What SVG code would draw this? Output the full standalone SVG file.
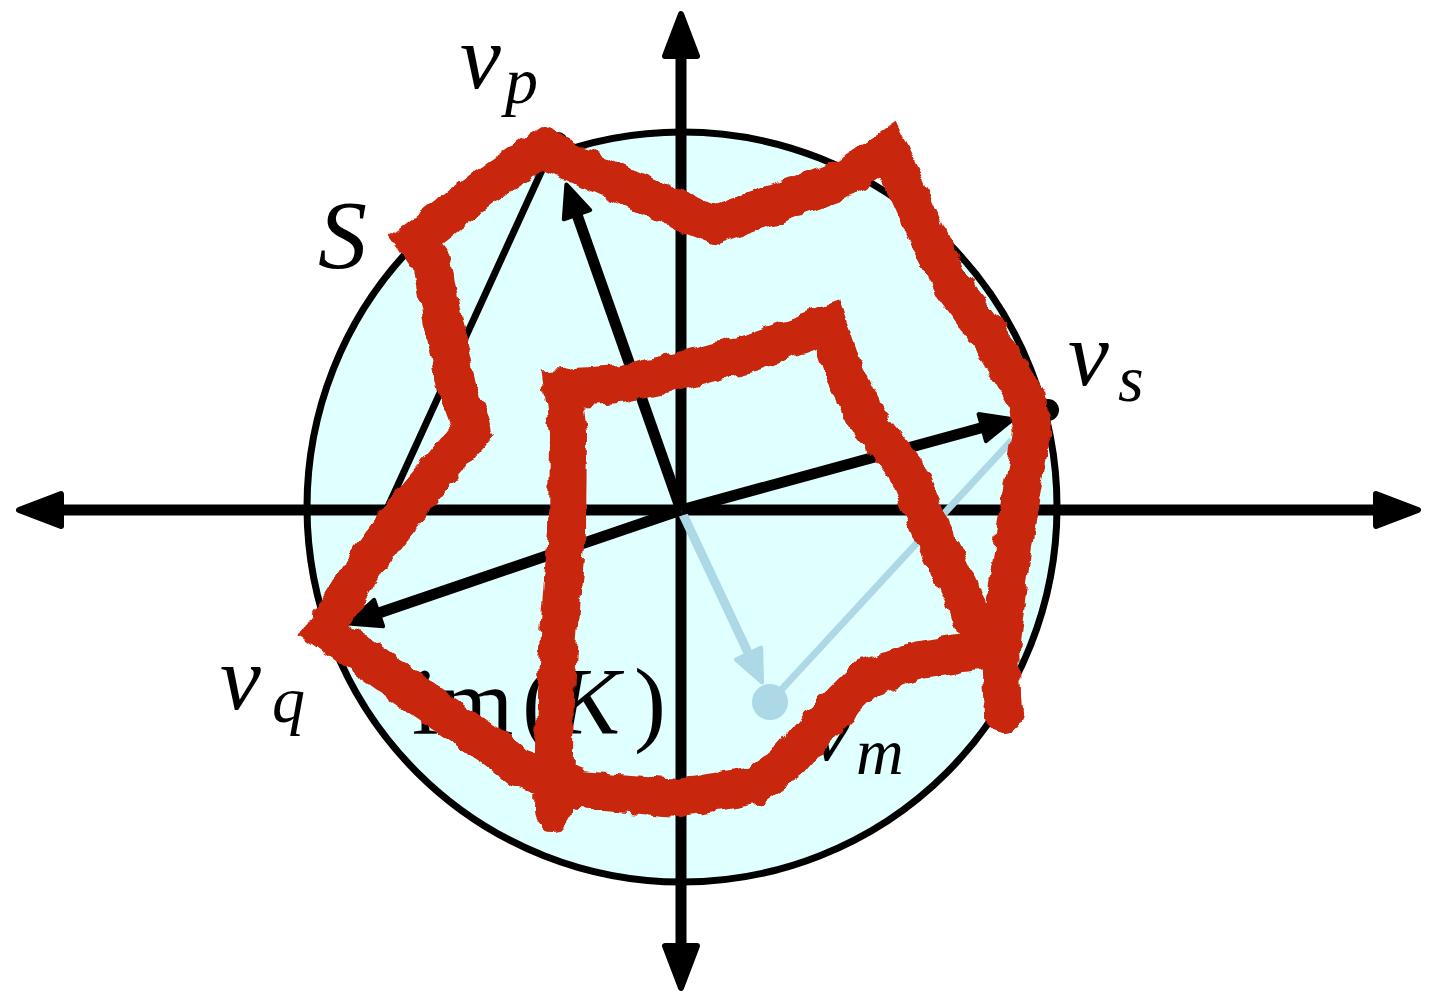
<svg xmlns="http://www.w3.org/2000/svg" width="1441" height="998" viewBox="0 0 1441 998">
<style>
.ax{stroke:#000;stroke-width:11;fill:none}
.vec{stroke:#000;stroke-width:11;fill:none}
.lb{stroke:#add8e6;fill:none}
.math{font-family:"Liberation Serif","Times New Roman",serif;font-style:italic;fill:#000}
.rm{font-family:"Liberation Serif","Times New Roman",serif;font-style:normal;fill:#000}
.red{stroke:#c8260a;stroke-width:38;fill:none;stroke-linejoin:miter;stroke-miterlimit:3;stroke-linecap:round}
</style>
<defs>
<marker id="axh" markerUnits="userSpaceOnUse" orient="auto" refX="0" refY="0" markerWidth="80" markerHeight="80" viewBox="-20 -40 80 80" overflow="visible">
<path d="M-8,-16 L34,0 L-8,16 Z" fill="#000" stroke="#000" stroke-width="6" stroke-linejoin="round"/>
</marker>
<marker id="vh" markerUnits="userSpaceOnUse" orient="auto" refX="0" refY="0" markerWidth="60" markerHeight="60" viewBox="-20 -30 60 60" overflow="visible">
<path d="M-6,-14 L26,0 L-6,14 Z" fill="#000" stroke="#000" stroke-width="4" stroke-linejoin="round"/>
</marker>
<marker id="vhb" markerUnits="userSpaceOnUse" orient="auto" refX="0" refY="0" markerWidth="60" markerHeight="60" viewBox="-20 -30 60 60" overflow="visible">
<path d="M-6,-14 L26,0 L-6,14 Z" fill="#add8e6" stroke="#add8e6" stroke-width="4" stroke-linejoin="round"/>
</marker>
<filter id="rough" x="-10%" y="-10%" width="120%" height="120%">
<feTurbulence type="fractalNoise" baseFrequency="0.07" numOctaves="2" seed="4" result="n"/>
<feDisplacementMap in="SourceGraphic" in2="n" scale="10" xChannelSelector="R" yChannelSelector="G"/>
</filter>
</defs>
<rect width="1441" height="998" fill="#fff"/>
<g id="set-S">
<circle cx="682" cy="507" r="375" fill="#e0ffff" stroke="#000" stroke-width="7"/>
</g>
<g id="axes">
<line class="ax" x1="681" y1="510" x2="53" y2="510" marker-end="url(#axh)"/>
<line class="ax" x1="681" y1="510" x2="1384" y2="510" marker-end="url(#axh)"/>
<line class="ax" x1="681" y1="510" x2="681" y2="48" marker-end="url(#axh)"/>
<line class="ax" x1="681" y1="510" x2="681" y2="954" marker-end="url(#axh)"/>
</g>
<g id="connectors">
<line class="lb" stroke-width="7" x1="770" y1="702" x2="1012" y2="440"/>
<line class="lb" stroke-width="9" x1="681" y1="510" x2="751" y2="659" marker-end="url(#vhb)"/>
<line stroke="#000" stroke-width="7" x1="332" y1="629" x2="553" y2="146"/>
<line class="vec" x1="681" y1="510" x2="575" y2="209" marker-end="url(#vh)"/>
<line class="vec" x1="681" y1="510" x2="988" y2="426" marker-end="url(#vh)"/>
<line class="vec" x1="681" y1="510" x2="373" y2="615" marker-end="url(#vh)"/>
</g>
<g id="node-vp"><circle cx="558" cy="142" r="10" fill="#000"/><text class="math" x="460" y="88" font-size="92">v<tspan font-size="66" x="505" y="103">p</tspan></text></g>
<g id="node-vs"><circle cx="1048" cy="410" r="11" fill="#000"/><text class="math" x="1068" y="385" font-size="92">v<tspan font-size="66" x="1118" y="401">s</tspan></text></g>
<g id="node-vq"><circle cx="330" cy="630" r="10" fill="#000"/><text class="math" x="220" y="709" font-size="92">v<tspan font-size="66" x="272" y="722">q</tspan></text></g>
<g id="node-vm"><circle cx="770" cy="702" r="18" fill="#add8e6"/><text class="math" x="810" y="760" font-size="92">v<tspan font-size="66" x="856" y="774">m</tspan></text></g>
<g id="label-S"><text class="math" x="318" y="268" font-size="98">S</text></g>
<g id="label-imK"><text class="rm" font-size="96" y="734"><tspan x="412">im</tspan><tspan x="522">(</tspan><tspan class="math" x="556">K</tspan><tspan x="634">)</tspan></text></g>
<g id="scribble" filter="url(#rough)">
<path class="red" d="M1003,715 L1000,650 L1010,567 L1020,500 L1032,433 L1027,400 L985,330 L953,287 L935,253 L907,190 L888,150 L847,178 L780,202 L715,225 L683,212 L600,175 L543,148 L480,190 L416,240 L432,262 L443,323 L458,390 L473,430 L450,457 L408,507 L370,557 L325,630 L436,708 L495,748 L520,768 L580,790 L680,798 L755,785 L790,760 L817,728 L867,678 L920,660 L982,650 L965,600 L933,533 L905,467 L867,420 L845,375 L828,325 L753,352 L687,370 L620,384 L562,388 L568,433 L567,533 L562,593 L555,693 L553,812"/>
</g>
</svg>
